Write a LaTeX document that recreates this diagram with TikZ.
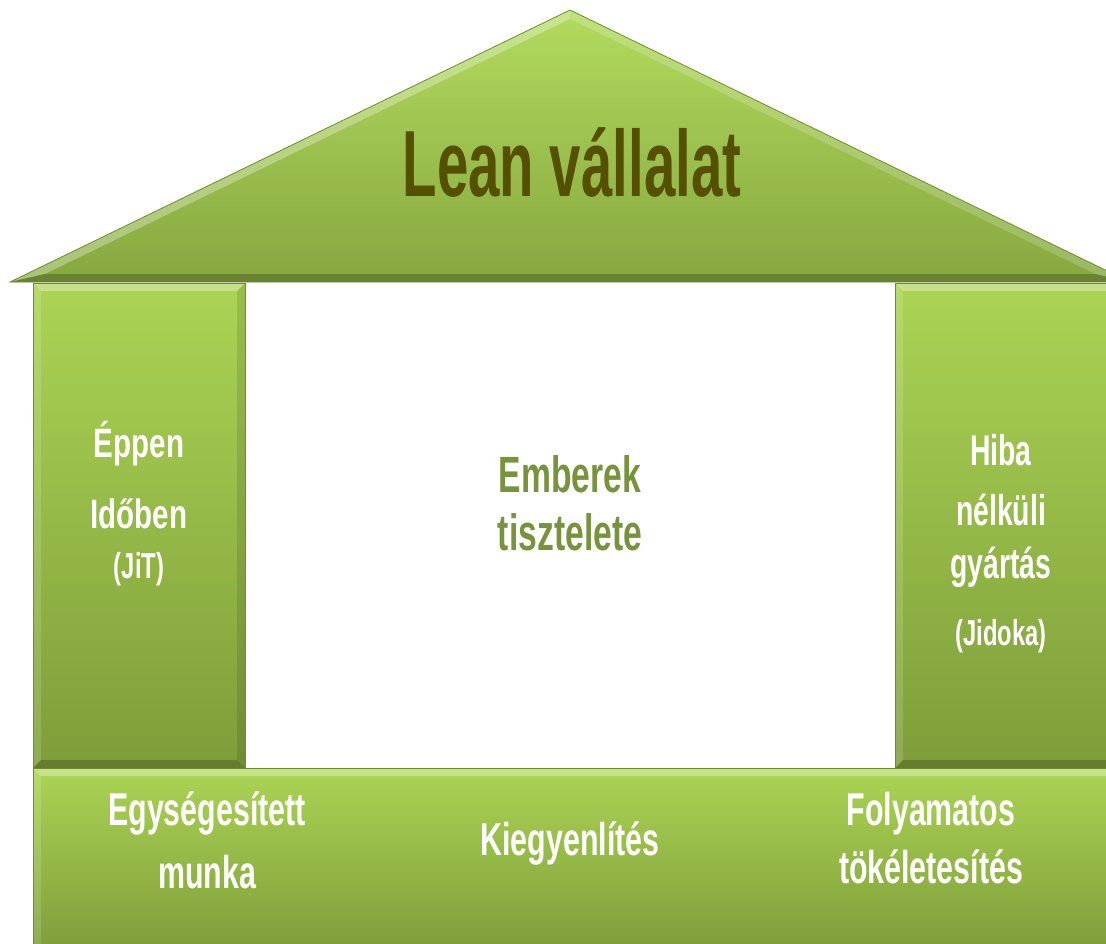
\documentclass[tikz,border=0pt]{standalone}
\usepackage{fontspec}
\newfontfamily\condfont[FakeStretch=0.66]{Liberation Sans}
\newfontfamily\condfontL[FakeStretch=0.72]{Liberation Sans}
\newfontfamily\leanfont[FakeStretch=0.6]{Liberation Sans}
\definecolor{gTop}{HTML}{ABD454}
\definecolor{gBot}{HTML}{7E9D3A}
\definecolor{roofTop}{HTML}{B3DB5E}
\definecolor{roofBot}{HTML}{86A73F}
\definecolor{edgeC}{HTML}{6F8D2F}
\definecolor{leanC}{HTML}{555000}
\definecolor{centerC}{HTML}{77933C}
\newcommand\bevbox[4]{%
  \shade[top color=gTop, bottom color=gBot] (#1,#2) rectangle (#3,#4);
  \fill[white, opacity=0.32] (#1,#2) -- (#3,#2) -- ({#3-8},{#2+8}) -- ({#1+8},{#2+8}) -- cycle;
  \fill[white, opacity=0.14] (#1,#2) -- ({#1+8},{#2+8}) -- ({#1+8},{#4-8}) -- (#1,#4) -- cycle;
  \fill[black, opacity=0.10] (#3,#2) -- ({#3-8},{#2+8}) -- ({#3-8},{#4-8}) -- (#3,#4) -- cycle;
  \fill[black, opacity=0.20] (#1,#4) -- ({#1+8},{#4-8}) -- ({#3-8},{#4-8}) -- (#3,#4) -- cycle;
  \draw[edgeC, line width=0.8pt] (#1,#2) rectangle (#3,#4);
}
\tikzset{
  whitetxt/.style={text=white, anchor=base, inner sep=0pt},
  pillarfont/.style={font=\condfont\bfseries\fontsize{43}{43}\selectfont},
  pillarfontL/.style={font=\condfontL\bfseries\fontsize{41}{41}\selectfont},
  parenfont/.style={font=\condfont\bfseries\fontsize{36}{36}\selectfont},
  basefont/.style={font=\condfont\bfseries\fontsize{46}{46}\selectfont},
  centertxt/.style={text=centerC, anchor=base, inner sep=0pt, font=\condfont\bfseries\fontsize{51}{51}\selectfont},
  leantxt/.style={text=leanC, anchor=base, inner sep=0pt, font=\leanfont\bfseries\fontsize{94}{94}\selectfont}
}
\begin{document}
\begin{tikzpicture}[x=1pt,y=-1pt]
\useasboundingbox (0,0) rectangle (1106,944);
\clip (0,0) rectangle (1106,944);
\fill[white] (0,0) rectangle (1106,944);
% roof
\shade[top color=roofTop, bottom color=roofBot] (570,10) -- (10,282) -- (1130,282) -- cycle;
\fill[white, opacity=0.30] (570,10) -- (10,282) -- (44.8,274) -- (570,18.9) -- cycle;
\fill[white, opacity=0.18] (570,10) -- (1130,282) -- (1095.2,274) -- (570,18.9) -- cycle;
\fill[black, opacity=0.22] (10,282) -- (1130,282) -- (1095.2,274) -- (44.8,274) -- cycle;
\draw[edgeC, line width=0.8pt] (570,10) -- (10,282) -- (1130,282) -- cycle;
% pillars and base
\bevbox{33}{283}{245}{768}
\bevbox{895}{283}{1114}{768}
\bevbox{33}{768}{1114}{952}
% texts
\node[leantxt] (lean) at (572,197) {Lean vállalat};
\node[whitetxt, pillarfontL] (eppen) at (139,457) {Éppen};
\node[whitetxt, pillarfontL] (idoben) at (139,528) {Időben};
\node[whitetxt, parenfont] (jit) at (139,578) {(JiT)};
\node[whitetxt, pillarfont] (hiba) at (1001,465) {Hiba};
\node[whitetxt, pillarfont] (nelkuli) at (1001,525) {nélküli};
\node[whitetxt, pillarfont] (gyartas) at (1001,578) {gyártás};
\node[whitetxt, parenfont] (jidoka) at (1001,645) {(Jidoka)};
\node[centertxt] (emberek) at (570,492) {Emberek};
\node[centertxt] (tisztelete) at (570,550) {tisztelete};
\node[whitetxt, basefont] (egyseg) at (207,825) {Egységesített};
\node[whitetxt, basefont] (munka) at (207,888) {munka};
\node[whitetxt, basefont] (kiegy) at (570,855) {Kiegyenlítés};
\node[whitetxt, basefont] (folyam) at (931,825) {Folyamatos};
\node[whitetxt, basefont] (tokel) at (931,883) {tökéletesítés};
\end{tikzpicture}
\end{document}
